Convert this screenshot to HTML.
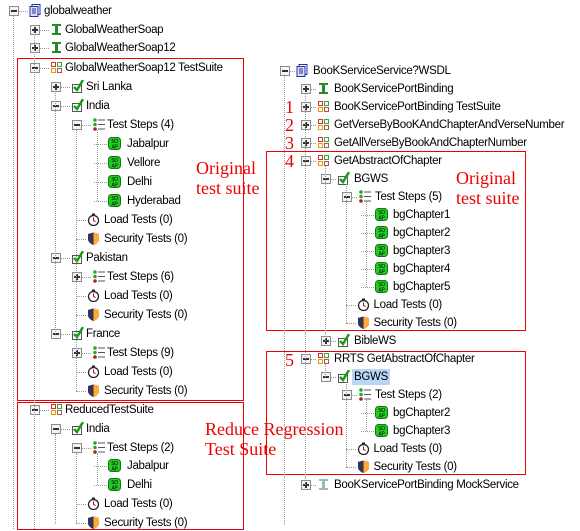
<!DOCTYPE html>
<html><head><meta charset="utf-8"><style>
body{margin:0;width:580px;height:531px;background:#fff;position:relative;overflow:hidden;font-family:"Liberation Sans","DejaVu Sans",sans-serif;font-size:11.5px;letter-spacing:-0.3px;color:#000}
.t{position:absolute;white-space:nowrap;line-height:14px}
.box{position:absolute;width:8px;height:8px;border:1px solid #8c8c8c;background:#f4f4f4}
.box:before{content:"";position:absolute;left:1px;top:3px;width:6px;height:2px;background:#333}
.box.p:after{content:"";position:absolute;left:3px;top:1px;width:2px;height:6px;background:#333}
.ic{position:absolute;width:13px;height:13px}
.vl{position:absolute;border-left:1px dotted #999;width:0}
.hl{position:absolute;border-top:1px dotted #999;height:0}
.red{position:absolute;border:1px solid #e00}
.rt{position:absolute;color:#e00;font-family:"Liberation Serif",serif;font-size:18px;line-height:20px;white-space:nowrap;letter-spacing:0}
.sel{background:#b9d7f5}
</style></head><body>
<div class="red" style="left:17px;top:58px;width:225px;height:341px"></div>
<div class="red" style="left:17px;top:402px;width:225px;height:126px"></div>
<div class="red" style="left:266px;top:151px;width:258px;height:178px"></div>
<div class="red" style="left:266px;top:351px;width:258px;height:122px"></div>
<div class="rt" style="left:196px;top:158px">Original<br>test suite</div>
<div class="rt" style="left:456px;top:168px">Original<br>test suite</div>
<div class="rt" style="left:205px;top:419px">Reduce Regression<br>Test Suite</div>
<div class="rt" style="left:285px;top:98px;line-height:18px">1<br>2<br>3<br>4</div>
<div class="rt" style="left:285px;top:350px">5</div>
<div id="c"></div>
<script>
var L=[
[0,11,'e','doc','globalweather'],
[1,30,'p','ifc','GlobalWeatherSoap'],
[1,48,'p','ifc','GlobalWeatherSoap12'],
[1,68,'e','suite','GlobalWeatherSoap12 TestSuite'],
[2,87,'p','case','Sri Lanka'],
[2,106,'e','case','India'],
[3,125,'e','steps','Test Steps (4)'],
[4,144,'','soap','Jabalpur'],
[4,163,'','soap','Vellore'],
[4,182,'','soap','Delhi'],
[4,201,'','soap','Hyderabad'],
[3.8,220,'','load','Load Tests (0)'],
[3.8,239,'','sec','Security Tests (0)'],
[2,258,'e','case','Pakistan'],
[3,277,'p','steps','Test Steps (6)'],
[3.8,296,'','load','Load Tests (0)'],
[3.8,315,'','sec','Security Tests (0)'],
[2,334,'e','case','France'],
[3,353,'p','steps','Test Steps (9)'],
[3.8,372,'','load','Load Tests (0)'],
[3.8,391,'','sec','Security Tests (0)'],
[1,410,'e','suite','ReducedTestSuite'],
[2,429,'e','case','India'],
[3,448,'e','steps','Test Steps (2)'],
[4,466,'','soap','Jabalpur'],
[4,485,'','soap','Delhi'],
[3.8,504,'','load','Load Tests (0)'],
[3.8,523,'','sec','Security Tests (0)']];
var R=[
[0,71,'e','doc','BooKServiceService?WSDL'],
[1,89,'p','ifc','BooKServicePortBinding'],
[1,107,'p','suite','BooKServicePortBinding TestSuite'],
[1,125,'p','suite','GetVerseByBooKAndChapterAndVerseNumber'],
[1,143,'p','suite','GetAllVerseByBookAndChapterNumber'],
[1,161,'e','suite','GetAbstractOfChapter'],
[2,179,'e','case','BGWS'],
[3,197,'e','steps','Test Steps (5)'],
[4,215,'','soap','bgChapter1'],
[4,233,'','soap','bgChapter2'],
[4,251,'','soap','bgChapter3'],
[4,269,'','soap','bgChapter4'],
[4,287,'','soap','bgChapter5'],
[3.8,305,'','load','Load Tests (0)'],
[3.8,323,'','sec','Security Tests (0)'],
[2,341,'p','case','BibleWS'],
[1,359,'e','suite','RRTS GetAbstractOfChapter'],
[2,377,'e','case','BGWS',1],
[3,395,'e','steps','Test Steps (2)'],
[4,413,'','soap','bgChapter2'],
[4,431,'','soap','bgChapter3'],
[3.8,449,'','load','Load Tests (0)'],
[3.8,467,'','sec','Security Tests (0)'],
[1,485,'p','mock','BooKServicePortBinding MockService']];
function icon(k){
 if(k=='doc')return '<svg class="ic" viewBox="0 0 13 13"><rect x="3" y="0.5" width="8" height="10" fill="#fff" stroke="#2233aa"/><rect x="1" y="2.5" width="8" height="10" fill="#dde" stroke="#2233aa"/><path d="M3 5h4M3 7h4M3 9h4" stroke="#2233aa"/></svg>';
 if(k=='ifc'||k=='mock')return '<svg class="ic" viewBox="0 0 13 13"><path d="M2 1h9v2h-3v7h3v2h-9v-2h3v-7h-3z" fill="'+(k=='mock'?'#9bb':'#2a8a2a')+'"/></svg>';
 if(k=='suite')return '<svg class="ic" viewBox="0 0 13 13"><rect x="1" y="1" width="5" height="5" fill="#c33"/><rect x="7" y="1" width="5" height="5" fill="#3a3"/><rect x="1" y="7" width="5" height="5" fill="#e90"/><rect x="7" y="7" width="5" height="5" fill="#a55"/><rect x="2" y="2" width="3" height="3" fill="#fff"/><rect x="8" y="2" width="3" height="3" fill="#fff"/><rect x="2" y="8" width="3" height="3" fill="#fff"/><rect x="8" y="8" width="3" height="3" fill="#fff"/></svg>';
 if(k=='case')return '<svg class="ic" viewBox="0 0 13 13"><rect x="1.5" y="4.5" width="9" height="8" fill="#fff" stroke="#555"/><path d="M3 7l3 3 6-10" stroke="#1a9a1a" stroke-width="2.5" fill="none"/></svg>';
 if(k=='steps')return '<svg class="ic" viewBox="0 0 13 13"><circle cx="3" cy="2" r="1.8" fill="#2a2"/><circle cx="3" cy="6.5" r="1.8" fill="#2a2"/><circle cx="3" cy="11" r="1.8" fill="#a22"/><path d="M6 2h7M6 6.5h7M6 11h7" stroke="#555"/></svg>';
 if(k=='soap')return '<svg class="ic" viewBox="0 0 13 13"><rect x="0.5" y="0.5" width="12" height="12" rx="3" fill="#22cc22" stroke="#117711"/><text x="6.5" y="6" font-size="5" text-anchor="middle" font-family="Liberation Sans">SO</text><text x="6.5" y="11.5" font-size="5" text-anchor="middle" font-family="Liberation Sans">AP</text></svg>';
 if(k=='load')return '<svg class="ic" viewBox="0 0 13 13"><circle cx="6.5" cy="7.5" r="5" fill="#fff" stroke="#222" stroke-width="1.3"/><rect x="5" y="0.5" width="3" height="1.5" fill="#222"/><path d="M6.5 7.5v-3M6.5 7.5l2 1" stroke="#c00"/></svg>';
 return '<svg class="ic" viewBox="0 0 13 13"><path d="M1 2l5.5-1.5 5.5 1.5v5c0 3-3 5-5.5 6c-2.5-1-5.5-3-5.5-6z" fill="#c33"/><path d="M6.5 0.5l5.5 1.5v5c0 3-3 5-5.5 6z" fill="#fa3"/><path d="M1 2l5.5-1.5v12.5c-2.5-1-5.5-3-5.5-6z" fill="#335"/></svg>';
}
var h='';
function build(A,cfg){
 A.forEach(function(r){
  var lv=r[0],y=r[1];
  var bx=cfg.b0+Math.round(lv*cfg.s),ix,tx;
  if(lv==4){ix=cfg.leafI;tx=cfg.leafT;}
  else if(lv==3.8){bx=cfg.b0+3*cfg.s;ix=bx+15;tx=ix+17;}
  else{ix=bx+cfg.io;tx=bx+cfg.to;}
  if(r[2])h+='<div class="box '+(r[2]=='p'?'p':'')+'" style="left:'+(bx)+'px;top:'+(y-5)+'px"></div>';
  var hx=r[2]?bx+10:(lv==4?cfg.leafI-14:bx+4);
  h+='<div class="hl" style="left:'+hx+'px;top:'+y+'px;width:'+(ix-hx-1)+'px"></div>';
  h+='<div style="position:absolute;left:'+ix+'px;top:'+(y-7)+'px;width:13px;height:13px">'+icon(r[3])+'</div>';
  h+='<div class="t'+(r[5]?' sel':'')+'" style="left:'+tx+'px;top:'+(y-7)+'px;'+(r[5]?'padding:1px 2px;margin:-1px -2px':'')+'">'+r[4]+'</div>';
 });
}
build(L,{b0:9,s:21,io:20,to:35,leafI:108,leafT:127});
build(R,{b0:280,s:20.5,io:16,to:33,leafI:375,leafT:393});
[[13,16,529],[34,34,529],[55,93,334],[55,434,524],[76,130,391],[76,453,523],[97,130,201],[97,453,485]].forEach(function(v){h+='<div class="vl" style="left:'+v[0]+'px;top:'+v[1]+'px;height:'+(v[2]-v[1])+'px"></div>';});
[[284,76,525],[305,94,485],[325,166,341],[325,364,377],[346,184,323],[346,382,467],[366,202,287],[366,400,431]].forEach(function(v){h+='<div class="vl" style="left:'+v[0]+'px;top:'+v[1]+'px;height:'+(v[2]-v[1])+'px"></div>';});
document.getElementById('c').innerHTML=h;
</script>
</body></html>
